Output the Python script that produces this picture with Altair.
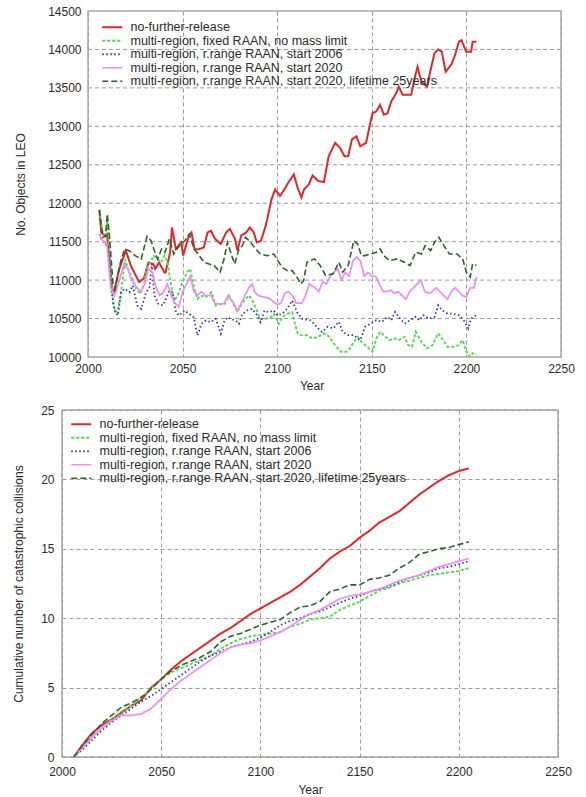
import altair as alt
import pandas as pd

SERIES = [
    "no-further-release",
    "multi-region, fixed RAAN, no mass limit",
    "multi-region, r.range RAAN, start 2006",
    "multi-region, r.range RAAN, start 2020",
    "multi-region, r.range RAAN, start 2020, lifetime 25years",
]
COLORS = ["#e0282a", "#4ddd4d", "#3535b5", "#ef8cef", "#2c622c"]
DASHES = [[1, 0], [3, 2], [1.5, 2.5], [1, 0], [6, 3]]
WIDTHS = [2.0, 1.6, 1.6, 1.6, 1.6]

# ---------------- Top panel: number of objects in LEO ----------------
leo_red_years = [2006, 2007, 2009, 2010, 2012.7, 2013.7, 2016.6, 2020, 2022.6, 2027, 2029.5, 2032, 2034.5,
                 2035.5, 2037.5, 2040.4, 2041, 2043.4, 2044.4, 2046.4, 2049.3, 2050.3, 2053.3, 2054.7, 2056.3,
                 2058.3, 2061.2, 2063.2, 2065, 2067.2, 2070.2, 2073, 2075, 2077.7, 2079, 2081, 2083.6, 2085.6,
                 2087.6, 2089.2, 2091.4, 2093.9, 2095.5, 2097, 2098.9, 2101.5, 2103.8, 2105.8, 2108.8, 2110.8,
                 2112.8, 2114.2, 2116.7, 2118.7, 2121.7, 2124.7, 2127.2, 2130.6, 2133.2, 2135.6, 2137.5, 2139.5,
                 2141.9, 2143.9, 2145.5, 2147, 2149, 2150.4, 2152.4, 2154.4, 2156.4, 2158.3, 2160.3, 2162.9,
                 2164.3, 2166.3, 2169.2, 2170.8, 2172.8, 2174.2, 2176.2, 2179.2, 2180.7, 2183.1, 2185.1, 2187,
                 2189, 2192, 2194, 2196, 2197.4, 2199.9, 2202.5, 2203.3, 2205.3]
leo_red_vals = [11914, 11620, 11575, 11600, 10890, 10845, 11150, 11385, 11190, 10975, 11020, 11230, 11210,
                11145, 11230, 11100, 11100, 11360, 11685, 11405, 11490, 11320, 11580, 11620, 11400,
                11400, 11425, 11620, 11640, 11535, 11470, 11620, 11665, 11535, 11385, 11580, 11620, 11685,
                11620, 11490, 11510, 11705, 11880, 12050, 12180, 12095, 12180, 12265, 12375, 12200,
                12075, 12180, 12245, 12360, 12290, 12275, 12610, 12785, 12720, 12610, 12610, 12830,
                12870, 12740, 12765, 12785, 13020, 13170, 13195, 13280, 13150, 13170, 13325, 13430,
                13515, 13410, 13410, 13410, 13645, 13775, 13580, 13515, 13690, 13950, 14000, 13970,
                13710, 13800, 13925, 14100, 14120, 13970, 13970, 14100, 14100]

leo_green_years = [2006, 2007.9, 2009.3, 2010.2, 2011.4, 2013.2, 2014.6, 2015.8, 2017.5, 2019.6, 2021.1, 2022.8,
                   2025.4, 2027.7, 2029.8, 2031.2, 2033, 2034.7, 2036.8, 2038.6, 2040.4, 2042.1, 2043.9, 2045.6,
                   2047.4, 2050, 2052.3, 2054, 2055.8, 2057.9, 2059.6, 2062.3, 2065.3, 2067.5, 2069.8, 2072.3,
                   2074.6, 2077.2, 2078.9, 2080.7, 2083.3, 2085.1, 2087.4, 2089.5, 2091.2, 2093.9, 2096.8, 2098.2,
                   2100.9, 2102.6, 2105.3, 2107.9, 2109.6, 2110.9, 2113.2, 2115.7, 2118.7, 2121.7, 2124.7, 2127.6,
                   2130.6, 2133.6, 2136.5, 2138.5, 2140.5, 2142.5, 2144.5, 2146.5, 2148.4, 2150.4, 2152.4, 2154.4,
                   2156.4, 2159.3, 2162.3, 2164.3, 2167.3, 2169.2, 2171.2, 2173.2, 2176.2, 2179.2, 2182.1, 2185.1,
                   2187.1, 2190, 2193, 2196, 2198, 2200, 2202, 2203.3, 2205.3]
leo_green_vals = [11914, 11598, 11598, 11793, 11404, 10713, 10583, 10605, 10842, 11274, 11145, 11058,
                  10886, 10821, 10972, 11166, 11231, 11318, 11274, 11231, 11318, 11231, 10929, 10734,
                  10799, 10972, 11102, 11145, 10929, 10756, 10799, 10778, 10842, 10670, 10691, 10691,
                  10799, 10670, 10583, 10670, 10756, 10799, 10713, 10583, 10497, 10497, 10518, 10562,
                  10432, 10518, 10562, 10583, 10410, 10302, 10281, 10284, 10241, 10263, 10306, 10263,
                  10155, 10069, 10069, 10112, 10198, 10260, 10198, 10155, 10112, 10069, 10241, 10327,
                  10284, 10220, 10241, 10220, 10263, 10155, 10134, 10327, 10198, 10112, 10155, 10306,
                  10241, 10134, 10134, 10155, 10220, 10069, 10004, 10047, 10026]

leo_blue_years = [2006, 2007, 2009.3, 2010.5, 2012.3, 2014, 2015.8, 2017.5, 2019.3, 2021.9, 2023.7, 2026, 2028.1,
                  2030.7, 2032.5, 2033.7, 2035.1, 2037.2, 2039.5, 2041.2, 2043, 2044.7, 2046.5, 2048.2, 2050.9,
                  2053.5, 2055.8, 2057.9, 2060, 2062.3, 2064.9, 2067.5, 2070.2, 2071.9, 2073.7, 2075.4, 2078.1,
                  2079.8, 2081.6, 2084.2, 2086.8, 2089.5, 2091.2, 2093.3, 2095.6, 2098.2, 2100, 2102.6, 2105.3,
                  2107.9, 2110.5, 2113.2, 2117.7, 2121.7, 2123.7, 2126.6, 2129.6, 2132.6, 2134.6, 2137.5, 2140.5,
                  2142.5, 2143.9, 2146.5, 2149.4, 2152.4, 2155.4, 2158.3, 2160.3, 2162.3, 2164.9, 2167.3, 2170.2,
                  2173.2, 2175.2, 2177.2, 2180.1, 2183.1, 2185.1, 2187.1, 2190, 2193, 2196, 2198.6, 2201, 2202.5,
                  2205.3]
leo_blue_vals = [11600, 11534, 11469, 11447, 10886, 10605, 10540, 10842, 10886, 10842, 10929, 10670, 10626,
                 10842, 10907, 11210, 10799, 10691, 10670, 10756, 10864, 10842, 10583, 10540, 10605,
                 10562, 10518, 10281, 10432, 10475, 10454, 10497, 10302, 10454, 10518, 10497, 10475,
                 10432, 10562, 10605, 10626, 10540, 10454, 10605, 10583, 10605, 10540, 10562, 10626,
                 10734, 10583, 10497, 10478, 10371, 10327, 10392, 10371, 10457, 10327, 10284, 10284,
                 10241, 10220, 10392, 10435, 10478, 10457, 10522, 10478, 10586, 10500, 10435, 10478,
                 10522, 10478, 10543, 10500, 10522, 10672, 10608, 10565, 10565, 10543, 10478, 10371, 10500,
                 10543]

leo_pink_years = [2006, 2008, 2010, 2012, 2014, 2016, 2019, 2021, 2023, 2026, 2028, 2030, 2032, 2034, 2036,
                  2038, 2040, 2042, 2044, 2046, 2048, 2050, 2052, 2054, 2056, 2058, 2060, 2062, 2065, 2067,
                  2070, 2072, 2074, 2077, 2079, 2081, 2083, 2085, 2086.8, 2088, 2090, 2093, 2096, 2100, 2102,
                  2104, 2106, 2108, 2110, 2113, 2115, 2117, 2120, 2122, 2124, 2126, 2128, 2130, 2132, 2134,
                  2136, 2138, 2140, 2142, 2144, 2146, 2148, 2150, 2152, 2154, 2156, 2158, 2160, 2162, 2164,
                  2166, 2168, 2170, 2172, 2174, 2176, 2178, 2180, 2182, 2184, 2186, 2188, 2190, 2192, 2194,
                  2196, 2198, 2200, 2202, 2204, 2205.3]
leo_pink_vals = [11600, 11500, 11470, 10900, 10800, 10950, 11200, 11150, 11000, 10900, 10850, 10950, 11150,
                 11100, 10900, 10800, 10850, 10950, 10800, 10700, 10650, 10850, 10950, 11050, 10850, 10800,
                 10850, 10800, 10800, 10700, 10680, 10700, 10800, 10700, 10600, 10700, 10800, 10900, 10950,
                 10850, 10800, 10780, 10760, 10680, 10700, 10830, 10850, 10800, 10700, 10700, 10800, 10950,
                 10900, 10850, 10980, 10950, 11050, 11100, 11150, 11000, 11100, 11050, 11250, 11300, 11250,
                 11050, 11100, 11050, 11050, 10950, 10850, 10850, 10870, 10830, 10850, 10800, 10750, 10850,
                 10900, 10950, 11000, 10850, 10830, 10850, 10900, 10850, 10800, 10750, 10850, 10900, 10850,
                 10800, 10780, 10900, 10900, 11040]

leo_dkgreen_years = [2006, 2007.9, 2009.3, 2010.2, 2011.4, 2013.2, 2014.4, 2016.7, 2019.3, 2021.9, 2024.9, 2028.1,
                     2031.2, 2033.3, 2035.1, 2036.8, 2038.9, 2040.7, 2043, 2045.3, 2047, 2049.1, 2051.2, 2053.5,
                     2056.1, 2058.8, 2061.4, 2064, 2066.7, 2069.8, 2071.9, 2073.7, 2075.4, 2077.5, 2079.8, 2081.6,
                     2083.3, 2086, 2088.6, 2091.2, 2094.7, 2098.2, 2100.9, 2102.6, 2105.3, 2107.9, 2110.5, 2112.3,
                     2114, 2115.7, 2119.7, 2122.7, 2125.6, 2129.6, 2132.6, 2134.6, 2137.5, 2140.5, 2142.5, 2144.5,
                     2146.5, 2149.4, 2152.4, 2154.4, 2156.4, 2159.3, 2163.3, 2167.3, 2170.2, 2173.2, 2176.2,
                     2178.2, 2181.1, 2183.1, 2185.5, 2188.1, 2191, 2195, 2198, 2200, 2202, 2203.3, 2205.3]
leo_dkgreen_vals = [11914, 11555, 11568, 11858, 11555, 10950, 10886, 11188, 11404, 11382, 11318, 11274,
                    11568, 11512, 11382, 11274, 11404, 11361, 11534, 11339, 11404, 11469, 11512, 11598,
                    11404, 11318, 11231, 11210, 11188, 11102, 11274, 11490, 11361, 11210, 11404, 11447,
                    11555, 11490, 11404, 11339, 11318, 11339, 11231, 11166, 11123, 11123, 11037, 10950,
                    10994, 11233, 11276, 11190, 11060, 11082, 11233, 11103, 11190, 11513, 11470, 11319,
                    11319, 11340, 11362, 11405, 11319, 11254, 11276, 11233, 11190, 11362, 11340,
                    11448, 11384, 11491, 11556, 11448, 11340, 11340, 11276, 11103, 11039, 11211, 11190]

# ---------------- Bottom panel: cumulative catastrophic collisions ----------------
col_years = [2006, 2010, 2015, 2020, 2025, 2030, 2035, 2040, 2045, 2050, 2055, 2060, 2065, 2070, 2075, 2080,
             2085, 2090, 2095, 2100, 2105, 2110, 2115, 2120, 2125, 2130, 2135, 2140, 2145, 2150, 2155, 2160,
             2165, 2170, 2175, 2180, 2185, 2190, 2195, 2200, 2205]
col_red = [0, 0.8, 1.7, 2.3, 2.7, 3.2, 3.7, 4.1, 5.0, 5.6, 6.3, 6.9, 7.4, 7.9, 8.4, 8.9, 9.3, 9.8, 10.3, 10.7,
           11.1, 11.5, 11.9, 12.4, 13.0, 13.6, 14.3, 14.8, 15.2, 15.8, 16.3, 16.9, 17.3, 17.7, 18.3, 18.9,
           19.4, 19.9, 20.3, 20.6, 20.8]
col_green = [0, 0.6, 1.4, 2.1, 2.7, 3.3, 3.7, 4.3, 4.9, 5.6, 6.1, 6.4, 6.7, 7.0, 7.3, 7.8, 8.2, 8.5, 8.7, 8.8,
             8.9, 9.0, 9.4, 9.6, 9.9, 10.0, 10.1, 10.6, 10.9, 11.2, 11.6, 12.0, 12.2, 12.5, 12.7, 12.9, 13.1,
             13.2, 13.3, 13.4, 13.6]
col_blue = [0, 0.5, 1.2, 1.9, 2.5, 3.0, 3.5, 4.0, 4.4, 4.9, 5.4, 5.9, 6.4, 6.9, 7.3, 7.6, 7.9, 8.1, 8.3, 8.6,
            9.0, 9.5, 9.8, 10.0, 10.3, 10.5, 10.8, 11.1, 11.4, 11.6, 11.9, 12.1, 12.3, 12.6, 12.9, 13.1, 13.3,
            13.6, 13.7, 13.9, 14.1]
col_pink = [0, 0.6, 1.4, 2.1, 2.6, 3.0, 3.0, 3.1, 3.5, 4.2, 4.9, 5.5, 6.0, 6.5, 7.0, 7.5, 7.9, 8.1, 8.2, 8.4,
            8.7, 9.0, 9.4, 9.9, 10.3, 10.6, 11.0, 11.4, 11.6, 11.7, 11.9, 12.1, 12.4, 12.7, 12.9, 13.1, 13.4,
            13.7, 13.9, 14.1, 14.3]
col_dkgreen = [0, 0.8, 1.6, 2.4, 3.0, 3.6, 3.9, 4.3, 4.9, 5.6, 6.2, 6.6, 6.9, 7.2, 7.6, 8.3, 8.7, 8.9, 9.2,
               9.5, 9.7, 9.9, 10.4, 10.8, 10.9, 11.2, 11.9, 12.1, 12.4, 12.4, 12.8, 12.9, 13.1, 13.6, 14.0,
               14.6, 14.8, 15.0, 15.1, 15.3, 15.5]

# axis ranges / tick values
X_RANGE = [2000, 2250]
X_TICKS = [2000, 2050, 2100, 2150, 2200, 2250]
TOP_Y_RANGE = [10000, 14500]
TOP_Y_TICKS = [10000, 10500, 11000, 11500, 12000, 12500, 13000, 13500, 14000, 14500]
BOT_Y_RANGE = [0, 25]
BOT_Y_TICKS = [0, 5, 10, 15, 20, 25]


def long_frame(pairs):
    rows = []
    for idx, (years, vals) in enumerate(pairs):
        for y, v in zip(years, vals):
            rows.append({"Year": y, "value": v, "series": SERIES[idx], "order": idx})
    return pd.DataFrame(rows)


top_df = long_frame([
    (leo_red_years, leo_red_vals),
    (leo_green_years, leo_green_vals),
    (leo_blue_years, leo_blue_vals),
    (leo_pink_years, leo_pink_vals),
    (leo_dkgreen_years, leo_dkgreen_vals),
])
bot_df = long_frame([
    (col_years, col_red),
    (col_years, col_green),
    (col_years, col_blue),
    (col_years, col_pink),
    (col_years, col_dkgreen),
])

FONT = "Liberation Sans"
TXT = "#2a2a2a"
GRID = "#9a9a9a"
FRAME = "#a8a8a8"
GDASH = [4, 3]


def make_legend(lx, ly):
    return alt.Legend(title=None, orient="none", legendX=lx, legendY=ly, symbolType="M-2,0H2",
                      symbolSize=100, symbolStrokeWidth=1.6, labelFontSize=12.5, labelFont=FONT,
                      labelColor=TXT, labelLimit=500, rowPadding=0.5, labelOffset=12, padding=0)


def x_axis(label_pad, title_pad):
    return alt.Axis(values=X_TICKS, format="d", title="Year", grid=True, gridDash=GDASH,
                    gridColor=GRID, gridOpacity=1, ticks=False, domain=False, labelFontSize=12,
                    titleFontSize=12, titleFontWeight="normal", labelColor=TXT, titleColor=TXT,
                    labelFont=FONT, titleFont=FONT, labelPadding=label_pad, titlePadding=title_pad,
                    labelFlush=False)


def y_axis(ticks, title, grid, label_pad, title_x):
    return alt.Axis(values=ticks, format="d", title=title, grid=grid, gridDash=GDASH, gridColor=GRID,
                    gridOpacity=1, ticks=False, domain=False, labelFontSize=12, titleFontSize=12,
                    titleFontWeight="normal", labelColor=TXT, titleColor=TXT, labelFont=FONT,
                    titleFont=FONT, labelPadding=label_pad, titleX=title_x, titleBaseline="middle",
                    labelFlush=False)


def lines(df, xs, ys, lx, ly):
    return alt.Chart(df).mark_line(clip=True).encode(
        x=xs,
        y=ys,
        color=alt.Color("series:N", scale=alt.Scale(domain=SERIES, range=COLORS), sort=SERIES,
                        legend=make_legend(lx, ly)),
        strokeDash=alt.StrokeDash("series:N", scale=alt.Scale(domain=SERIES, range=DASHES), sort=SERIES,
                                  legend=make_legend(lx, ly)),
        strokeWidth=alt.StrokeWidth("series:N", scale=alt.Scale(domain=SERIES, range=WIDTHS), legend=None),
        order=alt.Order("order:Q"),
        detail="series:N",
    )


# ----- top panel: the plot box starts 26px right of the shared column edge -----
TOP_W, TOP_H = 499, 346
top_shift_years = 26 * (X_RANGE[1] - X_RANGE[0]) / (TOP_W - 26)
top_x_scale = alt.Scale(domain=[X_RANGE[0] - top_shift_years, X_RANGE[1]], nice=False)
top_y_scale = alt.Scale(domain=TOP_Y_RANGE, nice=False, zero=False)
top_xax = x_axis(6, 6)
top_yax = y_axis(TOP_Y_TICKS, "No. Objects in LEO", False, -19, -42)

top_lines = lines(top_df,
                  alt.X("Year:Q", scale=top_x_scale, axis=top_xax),
                  alt.Y("value:Q", scale=top_y_scale, axis=top_yax),
                  44, 10)

hgrid_df = pd.DataFrame({"Year": [X_RANGE[0]] * (len(TOP_Y_TICKS) - 2),
                         "Year2": [X_RANGE[1]] * (len(TOP_Y_TICKS) - 2),
                         "value": TOP_Y_TICKS[1:-1]})
top_hgrid = alt.Chart(hgrid_df).mark_rule(color=GRID, strokeDash=GDASH, strokeWidth=1).encode(
    x=alt.X("Year:Q", scale=top_x_scale, axis=top_xax),
    x2="Year2:Q",
    y=alt.Y("value:Q", scale=top_y_scale, axis=top_yax),
)
frame_df = pd.DataFrame({"Year": [X_RANGE[0]], "Year2": [X_RANGE[1]],
                         "value": [TOP_Y_RANGE[0]], "value2": [TOP_Y_RANGE[1]]})
top_frame = alt.Chart(frame_df).mark_rect(filled=False, stroke=FRAME, strokeWidth=1.5).encode(
    x=alt.X("Year:Q", scale=top_x_scale, axis=top_xax),
    x2="Year2:Q",
    y=alt.Y("value:Q", scale=top_y_scale, axis=top_yax),
    y2="value2:Q",
)
top = alt.layer(top_hgrid, top_lines, top_frame).properties(
    width=TOP_W, height=TOP_H, view=alt.ViewBackground(stroke="transparent")
)

# ----- bottom panel -----
bottom = lines(bot_df,
               alt.X("Year:Q", scale=alt.Scale(domain=X_RANGE, nice=False), axis=x_axis(9, 7)),
               alt.Y("value:Q", scale=alt.Scale(domain=BOT_Y_RANGE, nice=False),
                     axis=y_axis(BOT_Y_TICKS, "Cumulative number of catastrophic collisions", True, 8, -44)),
               13, 8).properties(width=496, height=347)

chart = alt.ConcatChart(concat=[top, bottom], columns=1, spacing=11).resolve_scale(
    color="independent", strokeDash="independent", strokeWidth="independent",
    y="independent", x="independent"
).configure(
    padding={"left": 11, "top": 4, "right": 0, "bottom": 0}, background="white"
).configure_view(stroke=FRAME, strokeWidth=1.5)

chart.save("out.html", embed_options={"renderer": "svg", "actions": False})
